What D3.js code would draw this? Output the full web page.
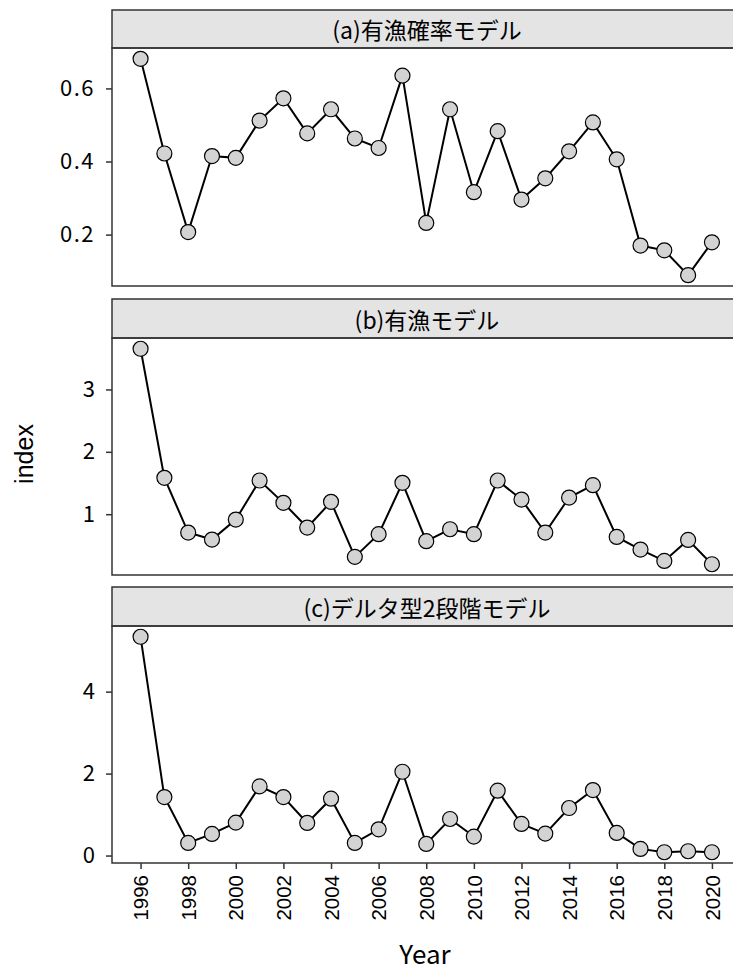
<!DOCTYPE html>
<html>
<head>
<meta charset="utf-8">
<script src="https://cdn.jsdelivr.net/npm/d3@7"></script>
<style>
  body { margin: 0; background: #fff; }
  text { fill: #000; }
</style>
</head>
<body>
<div id="chart"></div>
<script>
const years = d3.range(1996, 2021);
const panelTitles = ["(a)有漁確率モデル", "(b)有漁モデル", "(c)デルタ型2段階モデル"];
const probIndex = [0.681, 0.422, 0.207, 0.415, 0.410, 0.512, 0.573, 0.477, 0.543, 0.463, 0.437, 0.635, 0.232,
  0.543, 0.316, 0.483, 0.296, 0.354, 0.428, 0.507, 0.406, 0.170, 0.157, 0.089, 0.179];
const posIndex = [3.652, 1.583, 0.706, 0.594, 0.914, 1.540, 1.182, 0.786, 1.198, 0.316, 0.679, 1.503, 0.567,
  0.759, 0.679, 1.540, 1.235, 0.706, 1.267, 1.465, 0.636, 0.433, 0.251, 0.588, 0.198];
const deltaIndex = [5.339, 1.428, 0.308, 0.527, 0.803, 1.688, 1.428, 0.795, 1.387, 0.308, 0.641, 2.045, 0.284,
  0.892, 0.462, 1.582, 0.771, 0.535, 1.160, 1.598, 0.552, 0.162, 0.081, 0.105, 0.081];
const yTicks = [[0.2, 0.4, 0.6], [1, 2, 3], [0, 2, 4]];
const yTickFormat = [d3.format(".1f"), d3.format("d"), d3.format("d")];
const xTicks = d3.range(1996, 2021, 2);

const series = [probIndex, posIndex, deltaIndex];

const width = 733, height = 972;
const left = 112, right = 740.5;
// strip top, plot top, plot bottom for each panel
const panelBox = [[10, 48, 286], [299, 338, 575], [587, 626, 863]];

const svg = d3.select("#chart").append("svg")
  .attr("width", width)
  .attr("height", height)
  .style("font-family", "'Noto Sans CJK JP', sans-serif");

const x = d3.scaleLinear()
  .domain([1996 - 1.2, 2020 + 1.2])
  .range([left, right]);

series.forEach(function (vals, i) {
  const [stripTop, top, bottom] = panelBox[i];
  const ext = d3.extent(vals);
  const pad = (ext[1] - ext[0]) * 0.05;
  const y = d3.scaleLinear()
    .domain([ext[0] - pad, ext[1] + pad])
    .range([bottom, top]);

  const g = svg.append("g");

  // strip
  g.append("rect")
    .attr("x", left).attr("y", stripTop)
    .attr("width", right - left).attr("height", top - stripTop)
    .attr("fill", "#e4e4e4")
    .attr("stroke", "#333").attr("stroke-width", 1.5);
  g.append("text")
    .attr("x", 427)
    .attr("y", (stripTop + top) / 2 + 2)
    .attr("dy", "0.36em")
    .attr("text-anchor", "middle")
    .style("font-size", "23px")
    .text(panelTitles[i]);

  // y axis
  const yAxis = g.append("g")
    .attr("transform", "translate(" + left + ",0)")
    .call(d3.axisLeft(y).tickValues(yTicks[i]).tickFormat(yTickFormat[i]).tickSize(6).tickPadding(11));
  yAxis.select(".domain").remove();
  yAxis.selectAll(".tick line").attr("stroke", "#333").attr("stroke-width", 1.5);
  yAxis.selectAll(".tick text")
    .style("font-size", "22px")
    .style("font-family", "'Noto Sans CJK JP', sans-serif")
    .style("letter-spacing", i === 0 ? "1.5px" : "0px")
    .attr("fill", "#000");

  if (i === 2) {
    const xAxis = g.append("g")
      .attr("transform", "translate(0," + bottom + ")")
      .call(d3.axisBottom(x).tickValues(xTicks).tickFormat(d3.format("d")).tickSize(6).tickPadding(5));
    xAxis.select(".domain").remove();
    xAxis.selectAll(".tick line").attr("stroke", "#333").attr("stroke-width", 1.5);
    xAxis.selectAll(".tick text")
      .style("font-size", "20.5px")
      .style("font-family", "'Liberation Sans', Arial, sans-serif")
      .attr("fill", "#000")
      .attr("text-anchor", "end")
      .attr("dy", "0.35em")
      .attr("transform", "translate(0,12) rotate(-90)")
      .attr("x", 0).attr("y", 0);
  }

  const line = d3.line()
    .x(function (d, j) { return x(years[j]); })
    .y(function (d) { return y(d); });

  g.append("path")
    .datum(vals)
    .attr("fill", "none")
    .attr("stroke", "#000")
    .attr("stroke-width", 2)
    .attr("d", line);

  g.selectAll("circle")
    .data(vals)
    .join("circle")
    .attr("cx", function (d, j) { return x(years[j]); })
    .attr("cy", function (d) { return y(d); })
    .attr("r", 7.5)
    .attr("fill", "#d3d3d3")
    .attr("stroke", "#000")
    .attr("stroke-width", 1.2);

  // panel border
  g.append("rect")
    .attr("x", left).attr("y", top)
    .attr("width", right - left).attr("height", bottom - top)
    .attr("fill", "none")
    .attr("stroke", "#333").attr("stroke-width", 1.5);
});

svg.append("text")
  .attr("x", 425)
  .attr("y", 964)
  .attr("text-anchor", "middle")
  .style("font-size", "26px")
  .text("Year");

svg.append("text")
  .attr("transform", "translate(33,454) rotate(-90)")
  .attr("text-anchor", "middle")
  .style("font-size", "25px")
  .style("font-family", "'Liberation Sans', Arial, sans-serif")
  .text("index");
</script>
</body>
</html>
